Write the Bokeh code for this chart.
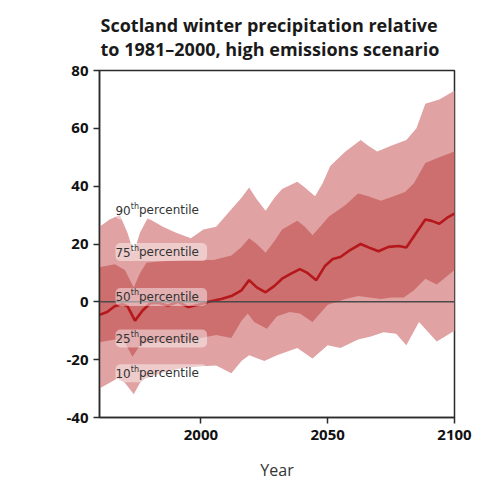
from bokeh.plotting import figure
from bokeh.models import Range1d, FixedTicker, Span, Label
from bokeh.embed import file_html
from bokeh.resources import INLINE

# Percentile envelopes of winter precipitation change (%) by year
p90_years = [1960, 1964, 1968, 1971, 1973.5, 1976, 1979, 1985, 1990, 1996, 2001, 2006, 2012,
             2016, 2019, 2022, 2025.5, 2029, 2032, 2038, 2041, 2045, 2048, 2051, 2057, 2063,
             2066, 2069.5, 2075, 2081, 2085, 2088.5, 2094, 2100]
p90 = [26, 28.5, 30, 24, 17, 24, 29, 26, 24, 22, 25, 26, 32,
       36, 39.5, 35.5, 31.5, 36, 39, 41.5, 39.5, 36.5, 41, 47, 52, 56,
       54, 52, 54, 56, 60, 68.5, 70, 73]

p75_years = [1960, 1966, 1970, 1973.5, 1976, 1978.5, 1985, 1995, 2005, 2012, 2016, 2019, 2022,
             2025.5, 2029, 2032, 2038, 2041, 2044, 2047, 2050.5, 2057, 2062, 2066, 2071, 2076,
             2080.5, 2084, 2088.5, 2094, 2100]
p75 = [12, 13, 11, 5, 10, 13.5, 14, 14.5, 14.5, 16, 19, 22, 20,
       17, 21, 25, 28, 26, 23, 26, 29.5, 33.5, 37.5, 36.5, 35, 36.5,
       38, 41, 48, 50, 52]

p50_years = [1960, 1963, 1966, 1969, 1971, 1974, 1977, 1980, 1983, 1987, 1991, 1995, 1999,
             2003, 2008, 2012, 2016, 2019, 2022, 2025.5, 2029, 2032, 2035, 2039, 2042, 2045.5,
             2049, 2052, 2055, 2059, 2063, 2067, 2070, 2074, 2078, 2081, 2085, 2088.5, 2091,
             2094, 2097, 2100]
p50 = [-4.5, -3.5, -1.5, -0.8, -1.5, -6.5, -3, -0.5, -0.3, -1.3, 0, -1.8, -1,
       0, 1, 2, 4, 7.5, 5, 3.3, 5.5, 8, 9.5, 11.3, 10, 7.5,
       12.5, 14.8, 15.5, 18, 20, 18.5, 17.5, 19, 19.3, 18.8, 24, 28.5, 28,
       27, 29, 30.5]

p25_years = [1960, 1966, 1970, 1973, 1976, 1979, 1985, 1992, 2000, 2006, 2012, 2016, 2018.5,
             2021, 2026, 2030, 2035, 2039, 2044, 2050, 2057, 2062, 2071, 2075, 2080, 2084,
             2088.5, 2093, 2100]
p25 = [-14, -13, -14, -19, -15, -14, -14, -14, -12.5, -11.5, -12.5, -6.5, -4,
       -7, -9.3, -5, -3.5, -4, -7, -1, 1, 2, 1, 1.5, 1.5, 4,
       8, 6, 11]

p10_years = [1960, 1967, 1970, 1973.5, 1976, 1978, 1985, 1992, 2000, 2006, 2012, 2016, 2019,
             2025, 2030, 2038, 2044, 2050, 2055, 2062, 2067, 2072, 2077, 2081, 2086, 2093, 2100]
p10 = [-30, -26.5, -28, -32, -28, -26.5, -24.5, -23, -22.3, -22, -24.7, -20.5, -18.5,
       -20.5, -18.5, -16, -19.6, -15, -16, -13, -12, -10.5, -11, -15, -7, -13.7, -10]

band_numbers = ["90", "75", "50", "25", "10"]
band_label_y = [31.6, 17.2, 1.7, -12.7, -24.7]

title_text = "Scotland winter precipitation relative\nto 1981–2000, high emissions scenario"

x_ticks = [2000, 2050, 2100]
y_ticks = [-40, -20, 0, 20, 40, 60, 80]

LIGHT = "#e0a2a3"
DARK = "#cd6e6f"
MEDIAN = "#b5171b"
INK = "#2b2b2b"
LABEL_FONT = "DejaVu Sans"

p = figure(width=486, height=484, output_backend="svg", toolbar_location=None,
           x_range=Range1d(1960, 2100), y_range=Range1d(-40, 80),
           min_border_left=99, min_border_right=32, min_border_top=69, min_border_bottom=67)

p.title.text = title_text
p.title.align = "left"
p.title.offset = 1
p.title.standoff = 20
p.title.text_font = "Open Sans"
p.title.text_font_style = "bold"
p.title.text_font_size = "18px"
p.title.text_color = "#1a1a1a"

p.xgrid.visible = False
p.ygrid.visible = False
p.outline_line_color = INK
p.outline_line_width = 1.5
p.background_fill_color = "white"
p.border_fill_color = "white"

# 10th-90th envelope, then 25th-75th envelope on top
p.patch(p90_years + p10_years[::-1], p90 + p10[::-1], fill_color=LIGHT, line_color=None)
p.patch(p75_years + p25_years[::-1], p75 + p25[::-1], fill_color=DARK, line_color=None)

p.add_layout(Span(location=0, dimension="width", line_color="#4a4a4a", line_width=1.5))

p.line(p50_years, p50, line_color=MEDIAN, line_width=2.6)

# Percentile captions: number, superscript "th", then "percentile", over a soft box
LABEL_X = 1966.3
for num, yv in zip(band_numbers, band_label_y):
    p.add_layout(Label(x=LABEL_X, y=yv, text=num + "thpercentile", text_font=LABEL_FONT,
                       text_font_size="12px", text_color="white", text_alpha=0.01,
                       text_baseline="middle",
                       background_fill_color="white", background_fill_alpha=0.45,
                       border_radius=5, padding=2))
    p.add_layout(Label(x=LABEL_X, y=yv, text=num, text_font=LABEL_FONT,
                       text_font_size="12px", text_color="#333333", text_baseline="middle"))
    p.add_layout(Label(x=LABEL_X, y=yv, x_offset=15.3, y_offset=4, text="th",
                       text_font=LABEL_FONT, text_font_size="8px", text_color="#333333",
                       text_baseline="middle"))
    p.add_layout(Label(x=LABEL_X, y=yv, x_offset=23.5, text="percentile",
                       text_font=LABEL_FONT, text_font_size="12px", text_color="#333333",
                       text_baseline="middle"))

# Axes
for ax in (p.xaxis[0], p.yaxis[0]):
    ax.axis_line_color = INK
    ax.axis_line_width = 1.5
    ax.major_tick_line_color = INK
    ax.major_tick_line_width = 1.5
    ax.major_tick_out = 6
    ax.major_tick_in = 0
    ax.minor_tick_out = 0
    ax.minor_tick_in = 0
    ax.major_label_text_font = "Open Sans"
    ax.major_label_text_font_style = "bold"
    ax.major_label_text_font_size = "15px"
    ax.major_label_text_color = "#111111"

p.xaxis.ticker = FixedTicker(ticks=x_ticks)
p.yaxis.ticker = FixedTicker(ticks=y_ticks)
p.yaxis.major_label_overrides = {t: str(t) for t in y_ticks}
p.xaxis.major_label_standoff = 6
p.yaxis.major_label_standoff = 5

p.xaxis.axis_label = "Year"
p.xaxis.axis_label_text_font = "Open Sans"
p.xaxis.axis_label_text_font_style = "normal"
p.xaxis.axis_label_text_font_size = "16px"
p.xaxis.axis_label_text_color = "#333333"
p.xaxis.axis_label_standoff = 16

# Vertical axis title, placed left of the frame and a little below its centre
p.add_layout(Label(x=-66, y=5.5, x_units="screen", y_units="data",
                   text="Change in precipitation (%)", angle=1.5708,
                   text_font="Open Sans", text_font_size="16px", text_color="#333333",
                   text_align="center", text_baseline="middle"))

open("out.html", "w").write(file_html(p, INLINE))
